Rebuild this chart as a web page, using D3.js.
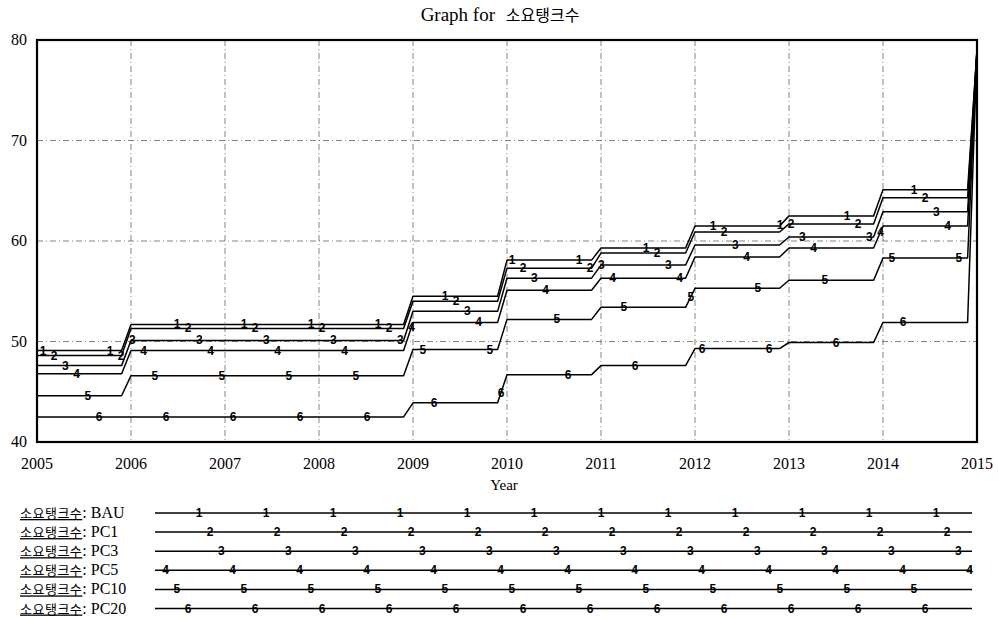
<!DOCTYPE html>
<meta charset="utf-8">
<style>
body { margin: 0; background: #fff; }
svg { font-family: "Liberation Serif", "Times New Roman", serif; }
.grid line { stroke: #666; stroke-width: 0.8; stroke-dasharray: 6,3,1,3; }
.series { fill: none; stroke: #000; stroke-width: 1.5; stroke-linejoin: round; }
.mark { font-family: "Liberation Sans", Arial, sans-serif; font-size: 12px; font-weight: bold; fill: #000; text-anchor: middle; }
.serif { font-family: "Liberation Serif", "Times New Roman", serif; }
.kr { font-family: "Noto Sans CJK KR", sans-serif; }
</style>
<svg></svg>
<script src="https://cdn.jsdelivr.net/npm/d3@7"></script>
<script>

var years = [2005, 2006, 2007, 2008, 2009, 2010, 2011, 2012, 2013, 2014];
var endYear = 2015;
var seriesNames = ["BAU", "PC1", "PC3", "PC5", "PC10", "PC20"];
var varName = "소요탱크수";

// values held during each year (Vensim step output)
var bau  = [49.1, 51.7, 51.7, 51.7, 54.5, 58.1, 59.3, 61.5, 62.5, 65.1];
var pc1  = [48.6, 51.3, 51.3, 51.3, 54.0, 57.3, 58.8, 60.9, 61.7, 64.3];
var pc3  = [47.6, 50.1, 50.1, 50.1, 53.0, 56.3, 57.6, 59.6, 60.4, 62.9];
var pc5  = [46.8, 49.1, 49.1, 49.1, 51.9, 55.1, 56.3, 58.4, 59.3, 61.5];
var pc10 = [44.6, 46.6, 46.6, 46.6, 49.2, 52.2, 53.4, 55.3, 56.1, 58.3];
var pc20 = [42.5, 42.5, 42.5, 42.5, 43.9, 46.7, 47.6, 49.3, 49.9, 51.9];
// value reached at the last time step (2015)
var finals = [79, 79, 79, 79, 79, 79];

var yTicks = [40, 50, 60, 70, 80];
var gridYears = [2006, 2007, 2008, 2009, 2010, 2011, 2012, 2013, 2014];
var gridValues = [50, 60, 70];

var allValues = [bau, pc1, pc3, pc5, pc10, pc20];

var width = 998,
    height = 618,
    margin = {top: 40, right: 21, bottom: 176, left: 37};

var ramp = 0.1; // years taken by each step change

var svg = d3.select("svg")
    .attr("width", width)
    .attr("height", height);

var x = d3.scaleLinear()
    .domain([years[0], endYear])
    .range([margin.left, width - margin.right]);

var y = d3.scaleLinear()
    .domain([40, 80])
    .range([height - margin.bottom, margin.top]);

// build step points for each series
var series = allValues.map(function(vals, i) {
  var pts = [];
  vals.forEach(function(v, j) {
    pts.push([years[j], v]);
    pts.push([years[j] + 1 - ramp, v]);
  });
  pts.push([endYear, finals[i]]);
  return {name: seriesNames[i], points: pts};
});

function valueAt(pts, t) {
  for (var k = 1; k < pts.length; k++) {
    if (t <= pts[k][0]) {
      var a = pts[k - 1], b = pts[k];
      return a[1] + (b[1] - a[1]) * (t - a[0]) / (b[0] - a[0]);
    }
  }
  return pts[pts.length - 1][1];
}

// title
var title = svg.append("text")
    .attr("x", 500)
    .attr("y", 21)
    .attr("text-anchor", "middle");
title.append("tspan").attr("class", "serif").style("font-size", "19px").text("Graph for ");
title.append("tspan").attr("class", "kr").attr("dx", 6).style("font-size", "16px").text(varName);

// grid
var grid = svg.append("g").attr("class", "grid");
grid.selectAll(".gx")
    .data(gridYears)
  .enter().append("line")
    .attr("x1", function(d) { return x(d); })
    .attr("x2", function(d) { return x(d); })
    .attr("y1", y(80))
    .attr("y2", y(40));
grid.selectAll(".gy")
    .data(gridValues)
  .enter().append("line")
    .attr("x1", x(years[0]))
    .attr("x2", x(endYear))
    .attr("y1", function(d) { return y(d); })
    .attr("y2", function(d) { return y(d); });

// series lines
var line = d3.line()
    .x(function(d) { return x(d[0]); })
    .y(function(d) { return y(d[1]); });

svg.selectAll(".series")
    .data(series)
  .enter().append("path")
    .attr("class", "series")
    .attr("d", function(d) { return line(d.points); });

// numbered markers along the lines
var markGap = 67, markShift = 11.2;
series.forEach(function(s, i) {
  var pos = [];
  for (var px = x.range()[0] + 6 + i * markShift; px < x.range()[1] - 8; px += markGap) pos.push(px);
  svg.selectAll(".m" + i)
      .data(pos)
    .enter().append("text")
      .attr("class", "mark")
      .attr("x", function(d) { return d; })
      .attr("y", function(d) { return y(valueAt(s.points, x.invert(d))) + 4; })
      .text(i + 1);
});

// frame
svg.append("rect")
    .attr("x", x(years[0]))
    .attr("y", y(80))
    .attr("width", x(endYear) - x(years[0]))
    .attr("height", y(40) - y(80))
    .attr("fill", "none")
    .attr("stroke", "#000")
    .attr("stroke-width", 2.2);

// axes
svg.selectAll(".ytick")
    .data(yTicks)
  .enter().append("text")
    .attr("x", 27)
    .attr("y", function(d) { return y(d) + 5; })
    .attr("text-anchor", "end")
    .style("font-size", "16px")
    .text(function(d) { return d; });

svg.selectAll(".xtick")
    .data(years.concat([endYear]))
  .enter().append("text")
    .attr("x", function(d) { return x(d); })
    .attr("y", 469)
    .attr("text-anchor", "middle")
    .style("font-size", "16px")
    .text(function(d) { return d; });

svg.append("text")
    .attr("x", 504)
    .attr("y", 490)
    .attr("text-anchor", "middle")
    .style("font-size", "15px")
    .text("Year");

// legend
var legX0 = 155, legX1 = 972, legY0 = 513, legStep = 19.1;
var leg = svg.selectAll(".leg")
    .data(series)
  .enter().append("g")
    .attr("transform", function(d, i) { return "translate(0," + (legY0 + i * legStep) + ")"; });

var lt = leg.append("text")
    .attr("x", 20)
    .attr("y", 5);
lt.append("tspan")
    .attr("class", "kr")
    .style("font-size", "13px")
    .style("letter-spacing", "0.5px")
    .style("text-decoration", "underline")
    .text(varName);
lt.append("tspan")
    .style("font-size", "16px")
    .text(function(d) { return ": " + d.name; });

leg.append("line")
    .attr("x1", legX0)
    .attr("x2", legX1)
    .attr("stroke", "#000")
    .attr("stroke-width", 1.5);

leg.each(function(d, i) {
  var pos = [];
  var start = legX0 + (44 + i * markShift) % markGap;
  for (var px = start; px < legX1; px += markGap) pos.push(px);
  d3.select(this).selectAll(".mark")
      .data(pos)
    .enter().append("text")
      .attr("class", "mark")
      .attr("x", function(p) { return p; })
      .attr("y", 4)
      .text(i + 1);
});

</script>
